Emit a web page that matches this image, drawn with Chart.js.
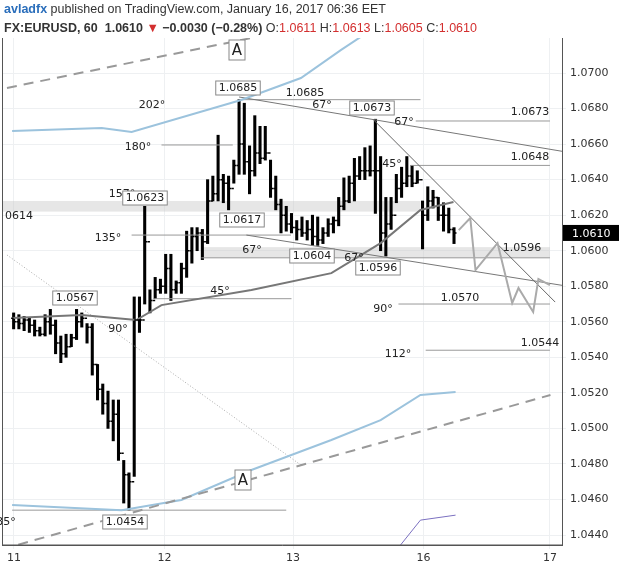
<!DOCTYPE html>
<html><head><meta charset="utf-8">
<script src="https://cdn.jsdelivr.net/npm/chart.js@4"></script>
<style>
body{margin:0;background:#fff;font-family:Arial,"Liberation Sans",sans-serif;}
#wrap{position:relative;width:619px;height:570px;}
#h1{position:absolute;left:4px;top:2px;font-size:12.5px;color:#333;}
#h2{position:absolute;left:4px;top:21px;font-size:12.5px;color:#333;font-weight:bold;}
.r{color:#d32f2f}
</style></head><body>
<div id="wrap">
<canvas id="c" width="619" height="570"></canvas>
<div id="h1"><b style="color:#2a6ebb">avladfx</b> published on TradingView.com, January 16, 2017 06:36 EET</div>
<div id="h2">FX:EURUSD, 60 &nbsp;1.0610 <span class="r">▼</span> −0.0030 (−0.28%) <span style="font-weight:normal">O:</span><span class="r" style="font-weight:normal">1.0611</span> <span style="font-weight:normal">H:</span><span class="r" style="font-weight:normal">1.0613</span> <span style="font-weight:normal">L:</span><span class="r" style="font-weight:normal">1.0605</span> <span style="font-weight:normal">C:</span><span class="r" style="font-weight:normal">1.0610</span></div>
</div>
<script>
const highs=[1.0565,1.0564,1.0563,1.0562,1.0561,1.0557,1.0564,1.0567,1.0561,1.0552,1.0553,1.0553,1.0567,1.0565,1.0559,1.0559,1.0536,1.0525,1.0521,1.0516,1.0516,1.0482,1.0475,1.0574,1.0574,1.0625,1.0578,1.0585,1.0584,1.0598,1.0598,1.0583,1.0593,1.0611,1.0613,1.0613,1.0612,1.0640,1.0642,1.0665,1.0643,1.0642,1.0651,1.0685,1.0683,1.0659,1.0676,1.0670,1.0670,1.0651,1.0642,1.0629,1.0625,1.0621,1.0617,1.0619,1.0617,1.0620,1.0619,1.0613,1.0618,1.0619,1.0630,1.0641,1.0642,1.0652,1.0653,1.0658,1.0659,1.0674,1.0653,1.0630,1.0630,1.0643,1.0647,1.0653,1.0648,1.0645,1.0628,1.0636,1.0634,1.0630,1.0627,1.0624,1.0613];
const lows=[1.0556,1.0556,1.0555,1.0554,1.0552,1.0552,1.0552,1.0553,1.0542,1.0537,1.0540,1.0546,1.0550,1.0557,1.0548,1.0530,1.0516,1.0508,1.0500,1.0493,1.0482,1.0458,1.0454,1.0473,1.0554,1.0570,1.0565,1.0573,1.0576,1.0576,1.0572,1.0576,1.0576,1.0585,1.0593,1.0600,1.0595,1.0604,1.0628,1.0628,1.0627,1.0623,1.0638,1.0643,1.0643,1.0632,1.0642,1.0649,1.0651,1.0630,1.0623,1.0610,1.0611,1.0610,1.0606,1.0608,1.0606,1.0603,1.0603,1.0604,1.0608,1.0610,1.0614,1.0623,1.0627,1.0628,1.0640,1.0640,1.0642,1.0621,1.0600,1.0597,1.0612,1.0627,1.0630,1.0636,1.0636,1.0638,1.0601,1.0617,1.0624,1.0617,1.0611,1.0610,1.0604];
const closes=[1.0560,1.0559,1.0561,1.0558,1.0555,1.0553,1.0560,1.0558,1.0548,1.0542,1.0546,1.0551,1.0560,1.0562,1.0557,1.0536,1.0522,1.0514,1.0504,1.0508,1.0486,1.0474,1.0470,1.0561,1.0561,1.0605,1.0572,1.0578,1.0580,1.0590,1.0578,1.0582,1.0590,1.0600,1.0608,1.0610,1.0605,1.0628,1.0632,1.0640,1.0638,1.0635,1.0648,1.0660,1.0650,1.0645,1.0655,1.0652,1.0655,1.0635,1.0626,1.0620,1.0615,1.0613,1.0612,1.0610,1.0612,1.0608,1.0606,1.0610,1.0615,1.0617,1.0625,1.0628,1.0638,1.0642,1.0645,1.0645,1.0645,1.0645,1.0610,1.0615,1.0620,1.0635,1.0638,1.0642,1.0638,1.0640,1.0620,1.0628,1.0630,1.0620,1.0620,1.0612,1.0610];
const opens=closes.map((c,i)=>i?closes[i-1]:1.0562);
const yTicks=[1.0440,1.0460,1.0480,1.0500,1.0520,1.0540,1.0560,1.0580,1.0600,1.0620,1.0640,1.0660,1.0680,1.0700];
const dayTicks=[0.06,28.8,53.3,78.2,102.3];
const dayLabels=['11','12','13','16','17'];
const dashTop=[[-1.27,1.06916],[45.35,1.07197]];
const dashBot=[[-2.24,1.0432],[102.4,1.05188]];
const blueUp=[[-0.29,1.06674],[16.8,1.0669],[22.5,1.06668],[43.4,1.06848],[54.8,1.06972],[62.4,1.07129],[68.1,1.0724]];
const blueLow=[[-0.29,1.04569],[20.6,1.0454],[32,1.04597],[45.35,1.04766],[60.6,1.04935],[70,1.05047],[77.6,1.05188],[84.3,1.05205]];
const purple=[[73.8,1.04344],[77.6,1.04484],[84.3,1.04512]];
const ma=[[-0.29,1.05621],[13,1.05638],[23.4,1.0561],[28.2,1.05694],[45.35,1.05779],[60.6,1.05874],[70,1.06043],[77.6,1.06229],[83.9,1.06274]];
const zigzag=[[84.9,1.06116],[87.1,1.06184],[88.1,1.05891],[92.3,1.06043],[95.1,1.05706],[96.3,1.0579],[99.1,1.05655],[100.1,1.05841],[102.3,1.05807]];
const trendA=[[68.5,1.06741],[103.3,1.05711]];
const trendB=[[43,1.06865],[105.5,1.06555]];
const trendC=[[44.4,1.06088],[105.5,1.05801]];
const dotted=[[-1.27,1.05976],[54.8,1.04794]];
const hLines=[[43.4,77.6,1.0685],[76.7,102.3,1.0673],[75.7,102.3,1.0648],[35.8,102.3,1.0596],[73.4,102.3,1.0570],[78.6,102.3,1.0544],[-0.29,52,1.0454],[26.8,53,1.0573],[28.2,41.8,1.06595],[22.5,52.9,1.06088]];
const bands=[[35.8,102.3,1.0596,1.0602],[-2.22,77.6,1.0622,1.0628]];
const plain=[['202°',152,105],['180°',138,147],['157°',122,194],['135°',108,238],['90°',118,329],['45°',220,291],['67°',252,250],['67°',322,105],['67°',404,122],['45°',392,164],['67°',354,258],['90°',383,309],['112°',398,354],['1.0685',305,93],['1.0673',530,112],['1.0648',530,157],['1.0596',522,248],['1.0570',460,298],['1.0544',540,343],['0614',19,216],['35°',6,522]];
const boxed=[['1.0685',238,88],['1.0623',145,198],['1.0567',75,298],['1.0617',242,220],['1.0604',312,256],['1.0673',372,108],['1.0596',378,268],['1.0454',125,522]];
const boxA=[[237,50],[243,480]];

const pts=a=>a.map(p=>({x:p[0],y:p[1]}));
const L=(a,color,w,dash)=>({type:'line',data:pts(a),borderColor:color,borderWidth:w,borderDash:dash||[],pointRadius:0,fill:false,tension:0});
const ds=[
 L(dashTop,'#999',2,[10,7]),L(dashBot,'#999',2,[10,7]),
 L(blueUp,'#9cc3dd',2),L(blueLow,'#9cc3dd',2),L(purple,'#7b70c0',1),
 L(ma,'#777',2),L(zigzag,'#aaa',2),L(trendA,'#666',1),L(trendB,'#777',1),L(trendC,'#777',1),L(dotted,'#aaa',1,[1,2]),
 ...hLines.map(h=>L([[h[0],h[2]],[h[1],h[2]]],'#999',1))
];
ds.push({type:'bar',data:highs.map((h,i)=>({x:i,y:[lows[i],h]})),backgroundColor:'#000',barThickness:2.4,grouped:false});
const overlay={id:'ov',
 beforeDatasetsDraw(c){const x=c.scales.x,y=c.scales.y,g=c.ctx;g.save();g.fillStyle='rgba(200,200,200,0.45)';
  bands.forEach(b=>{const x0=x.getPixelForValue(b[0]),x1=x.getPixelForValue(b[1]);const y0=y.getPixelForValue(b[3]),y1=y.getPixelForValue(b[2]);g.fillRect(x0,y0,x1-x0,y1-y0);});g.restore();},
 afterDatasetsDraw(c){const x=c.scales.x,y=c.scales.y,g=c.ctx;g.save();
  g.strokeStyle='#000';g.lineWidth=1.5;
  highs.forEach((h,i)=>{const px=x.getPixelForValue(i);g.beginPath();g.moveTo(px-2.5,y.getPixelForValue(opens[i]));g.lineTo(px,y.getPixelForValue(opens[i]));g.moveTo(px,y.getPixelForValue(closes[i]));g.lineTo(px+2.5,y.getPixelForValue(closes[i]));g.stroke();});
  g.font='11px "DejaVu Sans",sans-serif';g.textAlign='center';g.textBaseline='middle';g.fillStyle='#222';
  plain.forEach(t=>g.fillText(t[0],t[1],t[2]));
  boxed.forEach(t=>{const w=g.measureText(t[0]).width+6;g.fillStyle='#fff';g.fillRect(t[1]-w/2,t[2]-7,w,14);g.strokeStyle='#888';g.lineWidth=1;g.strokeRect(t[1]-w/2,t[2]-7,w,14);g.fillStyle='#222';g.fillText(t[0],t[1],t[2]);});
  g.font='15px "DejaVu Sans",sans-serif';
  boxA.forEach(a=>{g.fillStyle='#fff';g.fillRect(a[0]-8,a[1]-10,16,20);g.strokeStyle='#888';g.strokeRect(a[0]-8,a[1]-10,16,20);g.fillStyle='#222';g.fillText('A',a[0],a[1]+1);});
  const ly=y.getPixelForValue(1.0610);g.fillStyle='#000';g.fillRect(x.right+1,ly-8,56,16);g.fillStyle='#fff';g.font='11px "DejaVu Sans",sans-serif';g.textAlign='left';g.fillText('1.0610',x.right+10,ly+1);
  g.strokeStyle='#555';g.lineWidth=1;g.beginPath();g.moveTo(x.left+0.5,y.top);g.lineTo(x.left+0.5,y.bottom);g.lineTo(x.right,y.bottom);g.stroke();
  g.restore();}};
new Chart(document.getElementById('c'),{data:{datasets:ds},plugins:[overlay],
 options:{responsive:false,animation:false,layout:{padding:{top:38,left:2}},
  plugins:{legend:{display:false},tooltip:{enabled:false}},
  scales:{
   x:{type:'linear',offset:false,min:-2.22,max:104.6,afterBuildTicks:s=>{s.ticks=dayTicks.map(v=>({value:v}));},
     ticks:{callback:(v,i)=>dayLabels[i],color:'#333',font:{size:11,family:'DejaVu Sans'},maxRotation:0,autoSkip:false},
     grid:{offset:false,color:'#eef0f2',drawTicks:true,tickLength:4},border:{color:'#555'},afterFit:s=>{s.height=25;}},
   y:{position:'right',min:1.04344,max:1.07197,afterBuildTicks:s=>{s.ticks=yTicks.map(v=>({value:v}));},
     ticks:{callback:v=>v.toFixed(4),color:'#333',font:{size:11,family:'DejaVu Sans'},padding:4},
     grid:{color:'#eef0f2',tickLength:4},border:{color:'#555'},afterFit:s=>{s.width=57;}}
  }}});
</script></body></html>
